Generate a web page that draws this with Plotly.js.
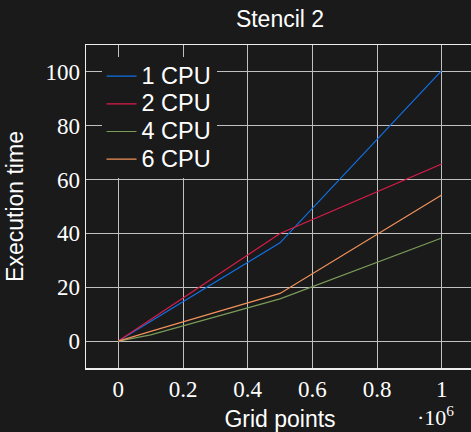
<!DOCTYPE html>
<html>
<head>
<meta charset="utf-8">
<script src="https://cdn.plot.ly/plotly-3.0.1.min.js"></script>
<style>html,body{margin:0;padding:0;overflow:hidden;background:#1a1a1a;}</style>
</head>
<body>
<div id="chart"></div>
<script>
const seriesNames = ["1 CPU", "2 CPU", "4 CPU", "6 CPU"];
const x1 = [0, 0.5, 1];
const y1 = [0, 36.5, 100.5];
const x2 = [0, 0.5, 1];
const y2 = [0, 40, 65.8];
const x4 = [0, 0.1, 0.5, 1];
const y4 = [0, 2.3, 15.7, 38.3];
const x6 = [0, 0.1, 0.5, 1];
const y6 = [0, 3.6, 17.7, 54.3];
const xTickVals = [0, 0.2, 0.4, 0.6, 0.8, 1];
const xTickText = ["0", "0.2", "0.4", "0.6", "0.8", "1"];
const yTickVals = [0, 20, 40, 60, 80, 100];
const colors = ["#1071e5", "#dc1c4a", "#7a9c58", "#f0925a"];

const xs = [x1, x2, x4, x6];
const ys = [y1, y2, y4, y6];
const traces = seriesNames.map((n, i) => ({
  x: xs[i], y: ys[i], name: '<span style="font-size:23.5px">' + n + '</span>',
  type: "scatter", mode: "lines",
  line: {color: colors[i], width: 1.2}
}));

const serif = "Liberation Serif, DejaVu Serif, serif";
const sans = "Liberation Sans, Arial, sans-serif";
const layout = {
  width: 475, height: 432,
  paper_bgcolor: "#1a1a1a", plot_bgcolor: "#1a1a1a",
  margin: {l: 86, r: 1, t: 45, b: 64},
  title: {text: "Stencil 2", font: {family: sans, size: 23, color: "#ffffff"}, x: 0.5, xref: "paper", xanchor: "center", y: 0.956, yref: "container", yanchor: "middle"},
  xaxis: {
    range: [-0.1, 1.1], tickvals: xTickVals, ticktext: xTickText,
    showgrid: true, gridcolor: "#c0c0c0", gridwidth: 1, zeroline: false,
    showline: true, linecolor: "#eeeeee", linewidth: 1.5, mirror: "ticks",
    ticks: "inside", ticklen: 6, tickcolor: "#c0c0c0",
    tickfont: {family: serif, size: 23, color: "#ffffff"},
    title: {text: "Grid points", font: {family: sans, size: 23, color: "#ffffff"}, standoff: 15}
  },
  yaxis: {
    range: [-10, 110], tickvals: yTickVals,
    showgrid: true, gridcolor: "#c0c0c0", gridwidth: 1, zeroline: false,
    showline: true, linecolor: "#eeeeee", linewidth: 1.5, mirror: "ticks",
    ticks: "inside", ticklen: 6, tickcolor: "#c0c0c0",
    tickfont: {family: serif, size: 23, color: "#ffffff"},
    title: {text: "Execution time", font: {family: sans, size: 23, color: "#ffffff"}, standoff: 15}
  },
  legend: {
    x: 0.04, y: 0.962, xanchor: "left", yanchor: "top",
    bgcolor: "#1a1a1a", borderwidth: 0,
    font: {family: sans, size: 19, color: "#ffffff"},
    tracegroupgap: 0, itemwidth: 30
  },
  annotations: [{
    text: "·10<sup>6</sup>", xref: "paper", yref: "paper", x: 0.9, y: -0.148,
    xanchor: "center", yanchor: "middle", showarrow: false,
    font: {family: serif, size: 22, color: "#ffffff"}
  }],
  showlegend: true
};
Plotly.newPlot("chart", traces, layout, {displayModeBar: false, staticPlot: true});
</script>
</body>
</html>
